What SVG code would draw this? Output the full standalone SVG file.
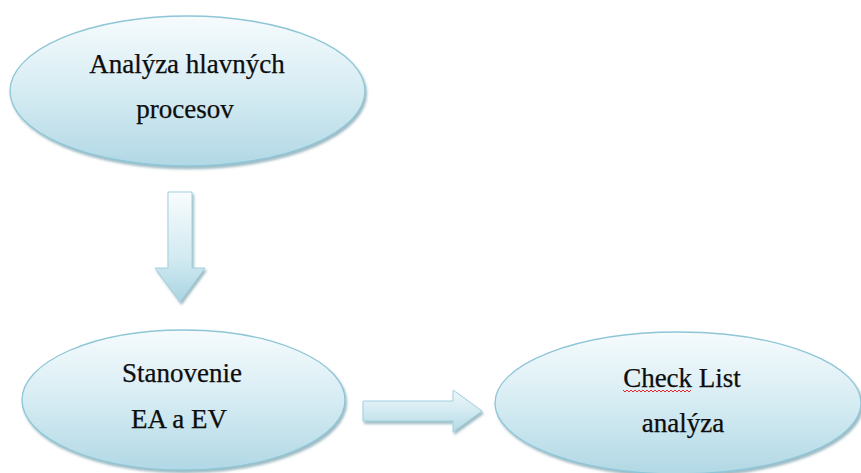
<svg xmlns="http://www.w3.org/2000/svg" width="861" height="473" viewBox="0 0 861 473">
<defs>
<linearGradient id="gEll" x1="0" y1="0" x2="0" y2="1">
<stop offset="0" stop-color="#f6fbfd"/>
<stop offset="0.5" stop-color="#d6ecf3"/>
<stop offset="1" stop-color="#b1d8e5"/>
</linearGradient>
<linearGradient id="gArrV" x1="0" y1="0" x2="0" y2="1">
<stop offset="0" stop-color="#f8fcfd"/>
<stop offset="0.6" stop-color="#d2eaf1"/>
<stop offset="1" stop-color="#a9d4e2"/>
</linearGradient>
<linearGradient id="gArrH" x1="0" y1="0" x2="0" y2="1">
<stop offset="0" stop-color="#eef7fa"/>
<stop offset="0.5" stop-color="#d3eaf1"/>
<stop offset="1" stop-color="#b3d9e5"/>
</linearGradient>
<filter id="sh" x="-10%" y="-10%" width="120%" height="130%">
<feDropShadow dx="1.5" dy="2.5" stdDeviation="1.3" flood-color="#5f8d9c" flood-opacity="0.6"/>
</filter>
</defs>
<style>
.ell{fill:url(#gEll);stroke:#8ec6d7;stroke-width:1.3;filter:url(#sh)}
.arr{stroke:#a3d0de;stroke-width:1;filter:url(#sh)}
.lbl{font-family:"Liberation Serif","Times New Roman",serif;font-size:27px;fill:#0d0d0d;text-anchor:middle;stroke:#0d0d0d;stroke-width:0.25}
</style>
<g id="connectors">
<path class="arr" fill="url(#gArrV)" d="M168,192 L192,192 L192,268 L205,268 L180,302 L155,268 L168,268 Z"/>
<path class="arr" fill="url(#gArrH)" d="M363,401 L453,401 L453,390 L482,411 L453,432 L453,421 L363,421 Z"/>
</g>
<g id="node-analyza">
<ellipse class="ell" cx="187.5" cy="91" rx="177.5" ry="75"/>
<text class="lbl" x="187" y="73">Analýza hlavných</text>
<text class="lbl" x="185" y="118">procesov</text>
</g>
<g id="node-stanovenie">
<ellipse class="ell" cx="183.5" cy="400" rx="161.5" ry="70"/>
<text class="lbl" x="182" y="382">Stanovenie</text>
<text class="lbl" x="179" y="428">EA a EV</text>
</g>
<g id="node-checklist">
<ellipse class="ell" cx="678" cy="403" rx="183" ry="71"/>
<text class="lbl" x="682" y="387">Check List</text>
<text class="lbl" x="683" y="432">analýza</text>
<path d="M623,390 l2,2 l2,-2 l2,2 l2,-2 l2,2 l2,-2 l2,2 l2,-2 l2,2 l2,-2 l2,2 l2,-2 l2,2 l2,-2 l2,2 l2,-2 l2,2 l2,-2 l2,2 l2,-2 l2,2 l2,-2 l2,2 l2,-2 l2,2 l2,-2 l2,2 l2,-2 l2,2 l2,-2 l2,2 l2,-2 l2,2 l2,-2" fill="none" stroke="#e3262a" stroke-width="1"/>
</g>
</svg>
